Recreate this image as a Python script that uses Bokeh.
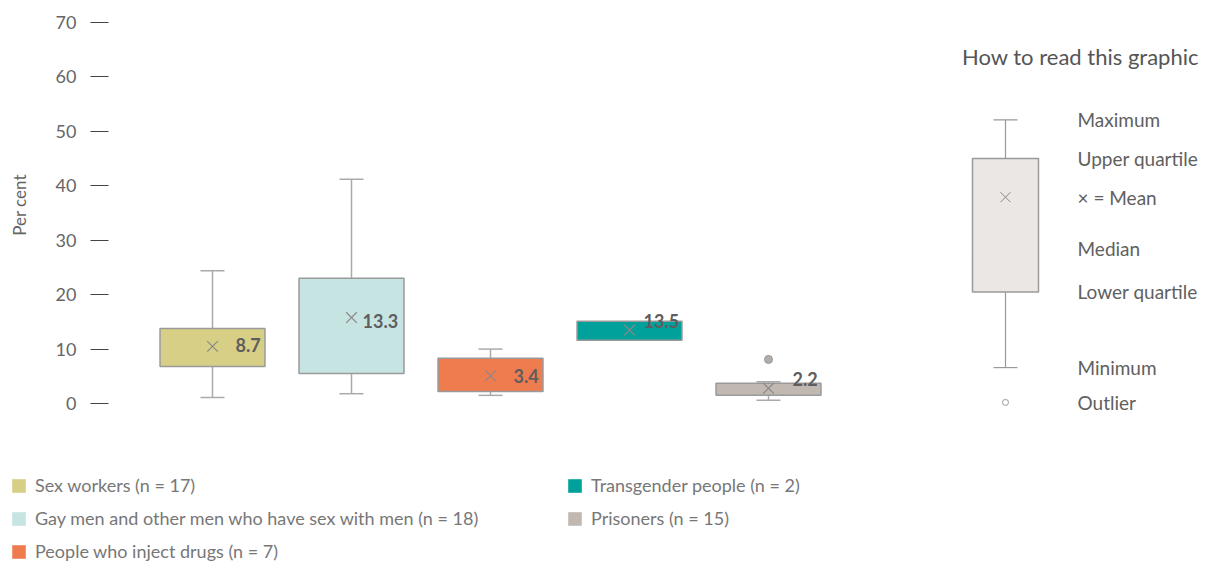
from bokeh.plotting import figure
from bokeh.models import (ColumnDataSource, Range1d, FixedTicker, Legend, LegendItem, Label)
from bokeh.core.properties import value
from bokeh.embed import file_html
from bokeh.resources import INLINE

# ---------------- data ----------------
groups = ["Sex workers", "Gay men and other men who have sex with men",
          "People who inject drugs", "Transgender people", "Prisoners"]
n_values = [17, 18, 7, 2, 15]
lower_quartile = [6.8, 5.5, 2.2, 11.6, 1.5]
upper_quartile = [13.8, 23.0, 8.3, 15.1, 3.7]
median = [8.7, 13.3, 3.4, 13.5, 2.2]
mean = [10.5, 15.8, 5.1, 13.5, 2.8]
minimum = [1.1, 1.8, 1.5, None, 0.6]
maximum = [24.4, 41.2, 10.0, None, 4.0]
outlier_group = ["Prisoners"]
outlier_value = [8.1]
colors = ["#d8cf86", "#c6e4e2", "#ef7c4e", "#00a19a", "#c1b8b1"]

y_ticks = [0, 10, 20, 30, 40, 50, 60, 70]

key_labels = ["Maximum", "Upper quartile", "\u00d7 = Mean", "Median",
              "Lower quartile", "Minimum", "Outlier"]
key_max, key_q3, key_mean, key_median, key_q1, key_min, key_outlier = 52.1, 45.0, 37.9, 28.5, 20.5, 6.6, 0.2

# ---------------- layout constants ----------------
FONT = "Lato"
BOX_W = 0.755
KEY_X = 6.705
KEY_W = 0.475
AXIS_X = 0.2518
label_dx = [23, 11, 23, 14, 24]
label_dy = [-1, 3, 0, -9, -9]

xs = [i + 1 for i in range(len(groups))]
xpos = dict(zip(groups, xs))

p = figure(width=1216, height=563, output_backend="svg", toolbar_location=None,
           x_range=Range1d(-0.5252, 8.2230), y_range=Range1d(-29.394, 74.042),
           x_axis_location=None, min_border_left=0, min_border_right=0,
           min_border_top=0, min_border_bottom=0)
p.outline_line_color = None
p.grid.visible = False
p.background_fill_color = "white"
p.border_fill_color = "white"

# y axis (drawn at a fixed location inside the frame)
ax = p.yaxis[0]
ax.fixed_location = AXIS_X
ax.bounds = (0, 73)
ax.ticker = FixedTicker(ticks=y_ticks)
ax.axis_line_color = None
ax.major_tick_in = 0
ax.major_tick_out = 18
ax.major_tick_line_color = "#444444"
ax.minor_tick_line_color = None
ax.major_label_standoff = 14
ax.major_label_text_font = FONT
ax.major_label_text_font_size = "18px"
ax.major_label_text_color = "#666666"
ax.axis_label = "Per cent"
ax.axis_label_text_font = FONT
ax.axis_label_text_font_size = "17px"
ax.axis_label_text_font_style = "normal"
ax.axis_label_text_color = "#666666"
ax.axis_label_standoff = 23

# whiskers (groups that have them)
wi = [i for i in range(len(groups)) if minimum[i] is not None]
wsrc = ColumnDataSource(dict(
    x=[xs[i] for i in wi],
    lo=[minimum[i] for i in wi], q1=[lower_quartile[i] for i in wi],
    q3=[upper_quartile[i] for i in wi], hi=[maximum[i] for i in wi]))
p.segment(x0="x", y0="lo", x1="x", y1="q1", source=wsrc, line_color="#aaaaaa", line_width=1.5)
p.segment(x0="x", y0="q3", x1="x", y1="hi", source=wsrc, line_color="#aaaaaa", line_width=1.5)
p.scatter(x="x", y="lo", source=wsrc, marker="dash", size=24, line_color="#aaaaaa", line_width=1.5)
p.scatter(x="x", y="hi", source=wsrc, marker="dash", size=24, line_color="#aaaaaa", line_width=1.5)

# boxes
src = ColumnDataSource(dict(
    x=xs, q1=lower_quartile, q3=upper_quartile, med=median, mean=mean,
    color=colors, name=groups,
    lbl=[f"{m:.1f}" for m in median], dx=label_dx, dy=label_dy))
boxes = p.vbar(x="x", width=BOX_W, bottom="q1", top="q3", source=src,
               fill_color="color", line_color=None)
p.vbar(x="x", width=BOX_W, bottom="q1", top="q3", source=src,
       fill_color=None, line_color="#9a9a9a", line_width=1.5)
p.rect(x="x", y="med", width=BOX_W, height=0, source=src,
       fill_color=None, line_color="#8f8f8f", line_width=1.2)
p.scatter(x="x", y="mean", source=src, marker="x", size=15,
          line_color="#888888", line_width=1.2)
p.text(x="x", y="mean", text="lbl", source=src, x_offset="dx", y_offset="dy",
       text_baseline="middle", text_align="left", text_font=value(FONT),
       text_font_size="18px", text_font_style="bold", text_color="#5e5e5e")

# outliers
p.scatter(x=[xpos[g] for g in outlier_group], y=outlier_value, marker="circle", size=8,
          fill_color="#b3aca7", line_color="#999999", line_width=1)

# ---------------- key: how to read this graphic ----------------
ksrc = ColumnDataSource(dict(x=[KEY_X], lo=[key_min], q1=[key_q1], q3=[key_q3],
                             hi=[key_max], med=[key_median], mean=[key_mean]))
p.segment(x0="x", y0="lo", x1="x", y1="q1", source=ksrc, line_color="#999999", line_width=1.2)
p.segment(x0="x", y0="q3", x1="x", y1="hi", source=ksrc, line_color="#999999", line_width=1.2)
p.scatter(x="x", y="lo", source=ksrc, marker="dash", size=24, line_color="#999999", line_width=1.2)
p.scatter(x="x", y="hi", source=ksrc, marker="dash", size=24, line_color="#999999", line_width=1.2)
p.vbar(x="x", width=KEY_W, bottom="q1", top="q3", source=ksrc,
       fill_color="#ebe7e4", line_color="#9a9a9a", line_width=1.5)
p.rect(x="x", y="med", width=KEY_W, height=0, source=ksrc, line_color="#9a9a9a", line_width=1.2)
p.scatter(x="x", y="mean", source=ksrc, marker="x", size=14, line_color="#888888", line_width=1)
p.scatter(x=[KEY_X], y=[key_outlier], marker="circle", size=6, fill_color="white",
          line_color="#999999", line_width=1)

key_vals = [key_max, key_q3, key_mean, key_median, key_q1, key_min, key_outlier]
p.text(x=[KEY_X] * len(key_labels), y=key_vals, text=key_labels, x_offset=72,
       text_baseline="middle", text_align="left", text_font=value(FONT),
       text_font_size="19px", text_color="#606060")
p.add_layout(Label(x=KEY_X, y=63.75, x_offset=75, text="How to read this graphic",
                   text_align="center", text_baseline="middle", text_font=FONT,
                   text_font_size="22px", text_color="#555555"))

# ---------------- legends ----------------
labels = [f"{g} (n = {n})" for g, n in zip(groups, n_values)]
items = [LegendItem(label=labels[i], renderers=[boxes], index=i) for i in range(len(groups))]

def make_legend(its, loc):
    return Legend(items=its, location=loc, orientation="vertical",
                  glyph_width=17, glyph_height=17, label_height=21, spacing=11,
                  label_standoff=8, padding=0, margin=0,
                  border_line_color=None, background_fill_alpha=0,
                  label_text_font=FONT, label_text_font_size="18px",
                  label_text_color="#777777")

p.add_layout(make_legend(items[:3], (10, 1)))
p.add_layout(make_legend(items[3:], (566, 34)))

open("out.html", "w").write(file_html(p, INLINE))
